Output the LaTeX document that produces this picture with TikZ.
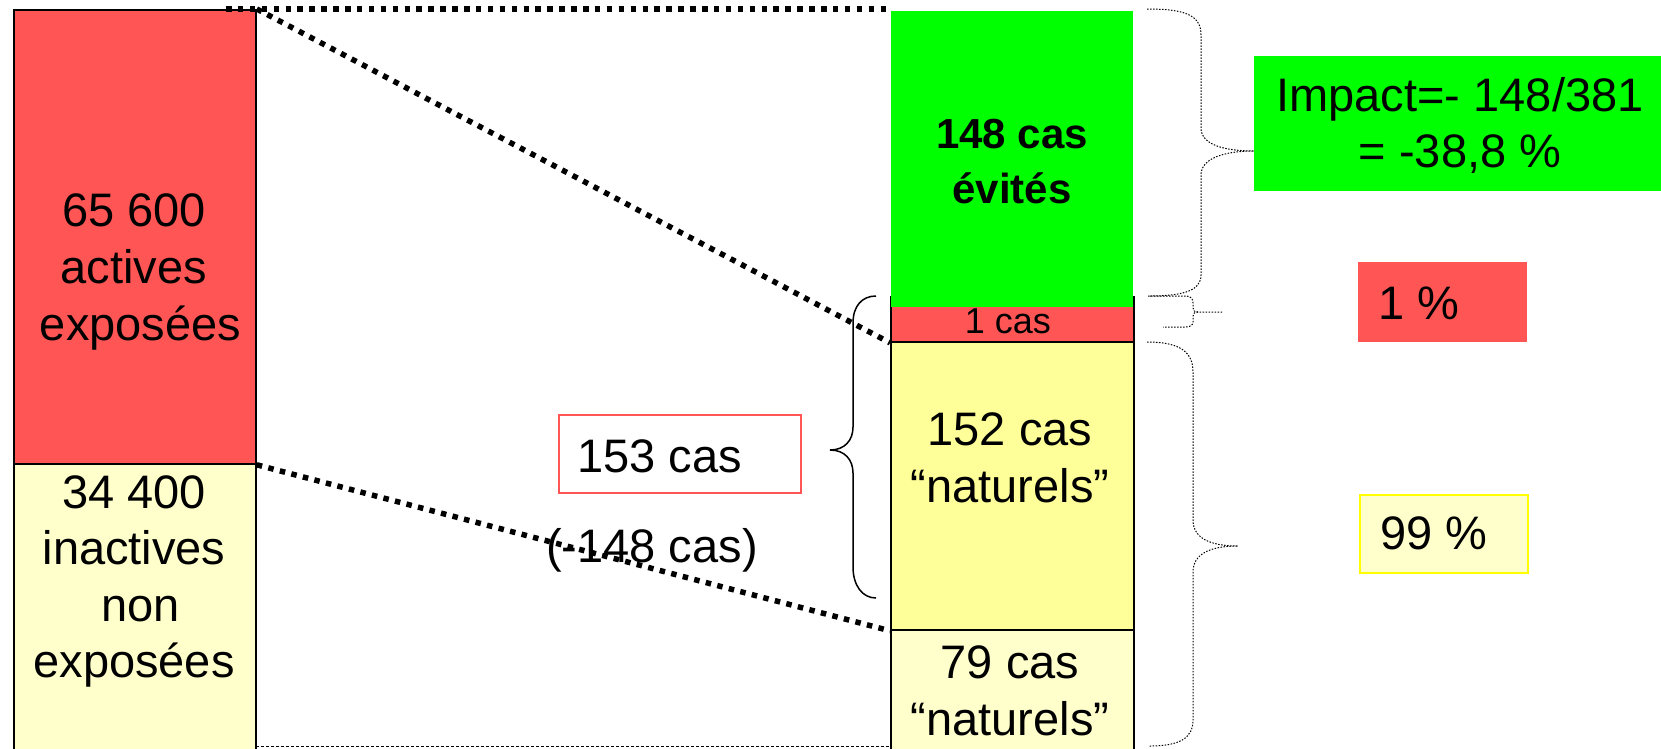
\documentclass[tikz,border=0pt]{standalone}
\usepackage{fontspec}
\setmainfont{Liberation Sans}
\definecolor{cred}{HTML}{FF5555}
\definecolor{cgreen}{HTML}{00FF00}
\definecolor{cyel}{HTML}{FFFF99}
\definecolor{lyel}{HTML}{FFFFCC}
\definecolor{cyellow}{HTML}{FFFF00}
\begin{document}
\begin{tikzpicture}[x=1pt,y=-1pt,
  boxst/.style={draw=black,line width=1.8pt,inner sep=0,anchor=north west},
  plainbox/.style={inner sep=0,anchor=north west},
  txt/.style={inner sep=0,align=center,font=\fontsize{47}{57}\selectfont},
  bigdot/.style={line width=5.5pt,dash pattern=on 5.5pt off 6.4pt},
  smalldot/.style={line width=1pt,dash pattern=on 1.5pt off 1.5pt},
  bracest/.style={line width=1.5pt}]
\useasboundingbox (0,0) rectangle (1661,748);
\fill[white] (0,0) rectangle (1661,748);

% left column
\node[boxst,fill=cred,minimum width=242,minimum height=454] (act) at (13,9) {};
\node[boxst,fill=lyel,minimum width=242,minimum height=300] (inact) at (13,463) {};

% middle column
\node[boxst,fill=cred,minimum width=243,minimum height=45] (one) at (890,296) {};
\node[plainbox,fill=cgreen,minimum width=242,minimum height=296] (evit) at (891,11) {};
\node[boxst,fill=cyel,minimum width=243,minimum height=288] (nat) at (890,341) {};
\node[boxst,fill=lyel,minimum width=243,minimum height=130] (nat2) at (890,629) {};

% right column
\node[plainbox,fill=cgreen,minimum width=420,minimum height=135] (imp) at (1254,56) {};
\node[plainbox,fill=cred,minimum width=169,minimum height=80] (p1) at (1358,262) {};
\node[plainbox,fill=lyel,draw=cyellow,line width=2pt,minimum width=168,minimum height=78] (p99) at (1359,494) {};

% 153 box
\node[plainbox,draw=cred,line width=1.5pt,minimum width=242,minimum height=78] (c153) at (558,414) {};

% texts (base anchor = baseline of the last line)
\node[txt,anchor=base] (tact) at (134,340) {65 600\\actives\\\hspace*{.28em}exposées};
\node[txt,anchor=base,font=\fontsize{47}{56.5}\selectfont] (tinact) at (134,677.5) {34 400\\inactives\\\hspace*{.28em}non\\exposées};
\node[txt,anchor=base,font=\bfseries\fontsize{42}{55}\selectfont] (tevit) at (1012,203) {148 cas\\évités};
\node[txt,anchor=base,font=\fontsize{36}{42}\selectfont] (tone) at (1008,333) {1 cas};
\node[txt,anchor=base] (tnat) at (1010,502) {152 cas\\“naturels”};
\node[txt,anchor=base] (tnat2) at (1010,735) {79 cas\\“naturels”};
\node[txt,anchor=base,font=\fontsize{47}{56}\selectfont] (timp) at (1460,167.5) {Impact=- 148/381\\= -38,8 \%};
\node[txt,anchor=base west] (tp1) at (1378,319) {1 \%};
\node[txt,anchor=base west] (tp99) at (1380,549.5) {99 \%};
\node[txt,anchor=base west] (t153) at (577,472) {153 cas};
\node[txt,anchor=base west] (tm148) at (546,562) {(-148 cas)};

% dotted connectors
\coordinate (topstart) at (226,9);
\coordinate (topend) at (890,9);
\draw[bigdot] (topstart) -- (topend);
\draw[bigdot] (act.north east) -- (one.south west);
\draw[bigdot] (act.south east) -- (nat.south west);
\coordinate (bl) at (256,746);
\coordinate (br) at (890,746);
\draw[line width=1pt,dash pattern=on 3pt off 2pt] (bl) -- (br);

% left brace (solid)
\draw[bracest] (876,296) .. controls (862,296) and (853,306) .. (853,323) -- (853,427)
  .. controls (853,440) and (845,450) .. (830,450)
  .. controls (845,450) and (853,460) .. (853,473) -- (853,567)
  .. controls (853,585) and (862,598) .. (876,598);

% right braces (dotted)
\draw[smalldot] (1147,9) .. controls (1185,9) and (1201,15) .. (1201,35) -- (1201,128)
  .. controls (1201,145) and (1225,151) .. (1254,151)
  .. controls (1225,151) and (1201,158) .. (1201,175) -- (1201,275)
  .. controls (1201,290) and (1185,296) .. (1149,296);
\draw[smalldot] (1148,296) -- (1186,296) .. controls (1191,296) and (1193,299) .. (1193,303) -- (1193,308)
  .. controls (1193,311) and (1195,312) .. (1198,312) -- (1223,312);
\draw[smalldot] (1198,312) .. controls (1195,312) and (1193,313) .. (1193,316) -- (1193,322)
  .. controls (1193,325) and (1190,327) .. (1186,327) -- (1163,327);
\draw[smalldot] (1147,342) .. controls (1180,342) and (1193,352) .. (1193,372) -- (1193,520)
  .. controls (1193,538) and (1210,546) .. (1238,546)
  .. controls (1210,546) and (1193,554) .. (1193,572) -- (1193,720)
  .. controls (1193,738) and (1180,746) .. (1149,746);
\end{tikzpicture}
\end{document}
